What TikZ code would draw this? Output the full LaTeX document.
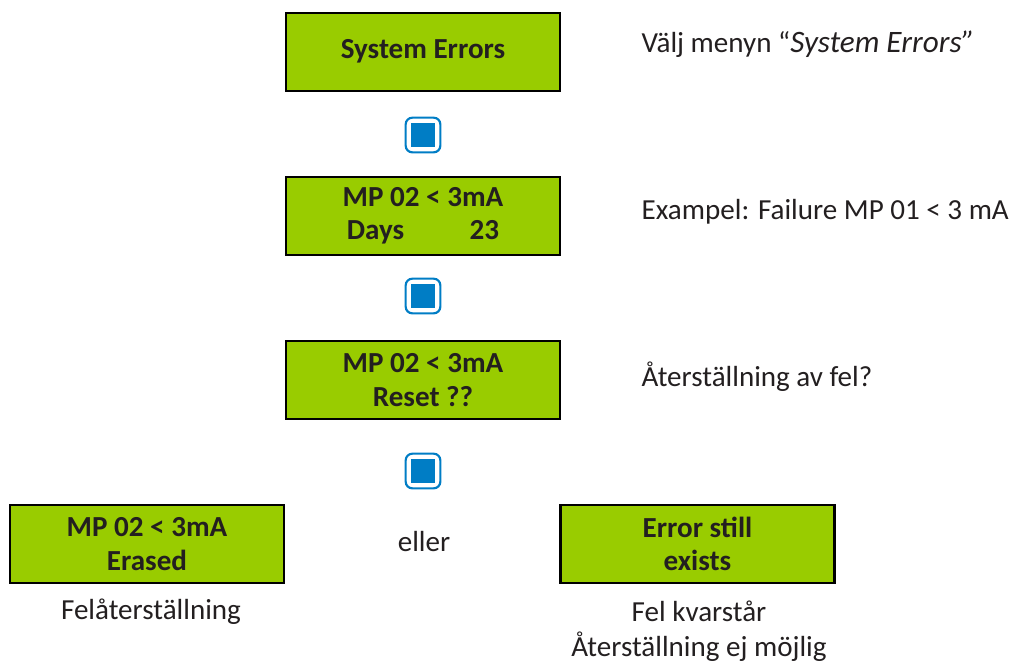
\documentclass[tikz,border=0pt]{standalone}
\usepackage{fontspec}
\setmainfont{Carlito}
\usepackage{tikz}
\begin{document}
\begin{tikzpicture}
            [x=0.75pt, y=-0.75pt,
             display/.style={rectangle, draw=black, fill=lcdgreen, line width=1.8pt, minimum width=205.5pt, minimum height=58.5pt, inner sep=0pt, align=center, text=inktext, font=\fontsize{21.8}{25}\selectfont\bfseries},
             keyframe/.style={rectangle, rounded corners=5pt, draw=keyblue, fill=white, line width=1.6pt, minimum size=26pt, inner sep=0pt},
             keyfill/.style={rectangle, fill=keyblue, minimum size=18pt, inner sep=0pt},
             note/.style={align=center, text=inktext, font=\fontsize{21.8}{26}\selectfont},
             sidenote/.style={note, anchor=west}]
            \definecolor{lcdgreen}{HTML}{99CC00}
            \definecolor{keyblue}{HTML}{007DC5}
            \definecolor{inktext}{HTML}{231F20}
            \useasboundingbox (0,0) rectangle (1016,662);

            \node[display] (errors) at (423,51.7) {System Errors};
            \node[display] (days) at (423,216) {MP 02 < 3mA\\Days\hspace{2.25em}23};
            \node[display] (reset) at (423,380) {MP 02 < 3mA\\Reset ??};
            \node[display] (erased) at (147,544) {MP 02 < 3mA\\Erased};
            \node[display] (exists) at (697.5,544) {Error still\\exists};

            \node[keyframe] (key1) at (423,135) {};
            \node[keyfill] (key1fill) at (key1) {};
            \node[keyframe] (key2) at (423,296) {};
            \node[keyfill] (key2fill) at (key2) {};
            \node[keyframe] (key3) at (423,471) {};
            \node[keyfill] (key3fill) at (key3) {};

            \node[sidenote] (menu) at (637,44) {Välj menyn “{\fontsize{23.4}{26}\selectfont\textit{System Errors”}}};
            \node[sidenote] (example) at (637,212) {Exampel: Failure MP 01 < 3 mA};
            \node[sidenote] (question) at (637,377) {Återställning av fel?};
            \node[note] (or) at (424,541) {eller};
            \node[note] (cleared) at (151,612) {Felåterställning};
            \node[note] (remains) at (699,631) {Fel kvarstår\\Återställning ej möjlig};
        \end{tikzpicture}
\end{document}
